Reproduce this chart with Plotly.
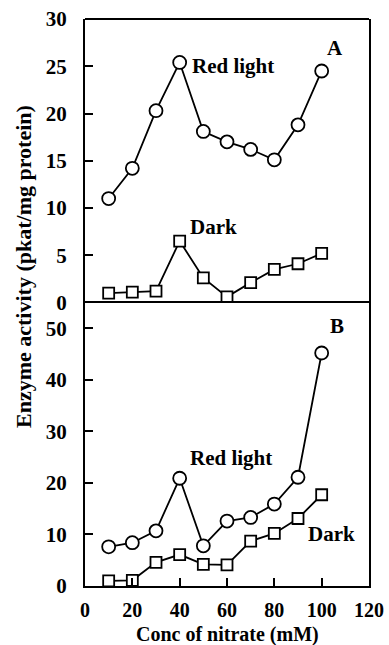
import plotly.graph_objects as go
from plotly.subplots import make_subplots

nitrate_mM = [10, 20, 30, 40, 50, 60, 70, 80, 90, 100]
a_red_light = [11.0, 14.2, 20.3, 25.4, 18.1, 17.0, 16.2, 15.1, 18.8, 24.5]
a_dark = [1.0, 1.1, 1.2, 6.5, 2.6, 0.6, 2.1, 3.5, 4.1, 5.2]
b_red_light = [7.6, 8.4, 10.7, 20.9, 7.8, 12.6, 13.3, 15.9, 21.1, 45.2]
b_dark = [1.0, 1.1, 4.6, 6.1, 4.2, 4.1, 8.7, 10.2, 13.1, 17.7]

x_ticks = [0, 20, 40, 60, 80, 100, 120]
a_ticks = [0, 5, 10, 15, 20, 25, 30]
b_ticks = [0, 10, 20, 30, 40, 50]

FONT = "Liberation Serif"


def bold(vals):
    return ["<b>%d</b>" % v for v in vals]


fig = make_subplots(rows=2, cols=1, shared_xaxes=True, vertical_spacing=0.0)

line_style = dict(color="black", width=1.8)
circle = dict(symbol="circle", size=13, color="white", line=dict(width=1.8, color="black"))
square = dict(symbol="square", size=11, color="white", line=dict(width=1.8, color="black"))

fig.add_trace(go.Scatter(x=nitrate_mM, y=a_red_light, mode="lines+markers",
                         line=line_style, marker=circle, showlegend=False), row=1, col=1)
fig.add_trace(go.Scatter(x=nitrate_mM, y=a_dark, mode="lines+markers",
                         line=line_style, marker=square, showlegend=False), row=1, col=1)
fig.add_trace(go.Scatter(x=nitrate_mM, y=b_red_light, mode="lines+markers",
                         line=line_style, marker=circle, showlegend=False), row=2, col=1)
fig.add_trace(go.Scatter(x=nitrate_mM, y=b_dark, mode="lines+markers",
                         line=line_style, marker=square, showlegend=False), row=2, col=1)

tickfont = dict(family=FONT, size=21, color="black")
axis_common = dict(linecolor="black", linewidth=2, mirror=True, automargin=False,
                   showgrid=False, zeroline=False, tickfont=tickfont)

fig.update_xaxes(range=[0, 120], tickvals=x_ticks, ticks="", showticklabels=False,
                 showline=False, row=1, col=1, **axis_common)
fig.update_xaxes(range=[0, 120], tickvals=x_ticks, ticktext=bold(x_ticks),
                 ticks="inside", ticklen=8, tickwidth=2, ticklabelstandoff=5,
                 tickcolor="black", showticklabels=True, showline=True, row=2, col=1,
                 **axis_common)
fig.update_xaxes(tickfont_size=20, row=2, col=1)
fig.update_yaxes(range=[0, 30], tickvals=a_ticks, ticktext=bold(a_ticks),
                 ticks="inside", ticklen=8, tickwidth=2, ticklabelstandoff=12,
                 tickcolor="black", showline=True, row=1, col=1, **axis_common)
fig.update_yaxes(range=[0, 55], tickvals=b_ticks, ticktext=bold(b_ticks),
                 ticks="inside", ticklen=8, tickwidth=2, ticklabelstandoff=12,
                 tickcolor="black", showline=True, row=2, col=1, **axis_common)
# top edge of panel A
fig.add_shape(type="line", xref="x domain", yref="y domain", x0=0, x1=1, y0=1, y1=1,
              line=dict(color="black", width=2))

annfont = dict(family=FONT, size=21, color="black")
annotations = [
    dict(x=44.3, y=25.0, xref="x", yref="y", text="<b>Red light</b>", xanchor="left"),
    dict(x=105.5, y=26.9, xref="x", yref="y", text="<b>A</b>", xanchor="center"),
    dict(x=43.5, y=8.0, xref="x", yref="y", text="<b>Dark</b>", xanchor="left"),
    dict(x=106.3, y=50.4, xref="x2", yref="y2", text="<b>B</b>", xanchor="center"),
    dict(x=43.5, y=24.8, xref="x2", yref="y2", text="<b>Red light</b>", xanchor="left"),
    dict(x=93.2, y=10.1, xref="x2", yref="y2", text="<b>Dark</b>", xanchor="left"),
]
for a in annotations:
    fig.add_annotation(showarrow=False, yanchor="middle", font=annfont, **a)

# axis titles as paper annotations (pixel-matched)
fig.add_annotation(x=(23 - 85) / 284, y=(645 - 267 - 59) / 567, xref="paper", yref="paper",
                   text="<b>Enzyme activity (pkat/mg protein)</b>", textangle=-90,
                   showarrow=False, xanchor="center", yanchor="middle",
                   font=dict(family=FONT, size=22, color="black"))
fig.add_annotation(x=(227 - 85) / 284, y=-(634 - 586) / 567, xref="paper", yref="paper",
                   text="<b>Conc of nitrate (mM)</b>",
                   showarrow=False, xanchor="center", yanchor="middle",
                   font=dict(family=FONT, size=20, color="black"))

fig.update_layout(width=389, height=645, margin=dict(l=85, r=20, t=19, b=59),
                  paper_bgcolor="white", plot_bgcolor="white",
                  font=dict(family=FONT, color="black"))

fig.write_html("out.html")
